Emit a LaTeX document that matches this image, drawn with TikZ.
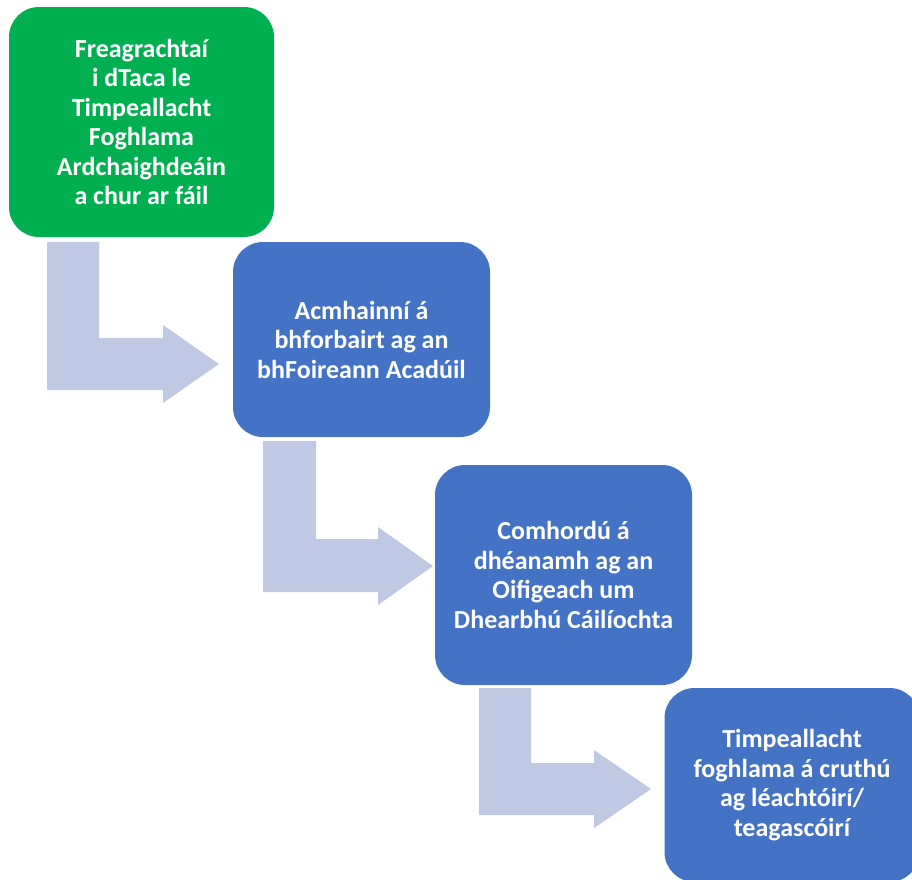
\documentclass[tikz,border=0pt]{standalone}
\usepackage{fontspec}
\setmainfont{Carlito}
\definecolor{boxgreen}{HTML}{00B050}
\definecolor{boxblue}{HTML}{4472C4}
\definecolor{arrowfill}{HTML}{BFC9E3}
\begin{document}
\begin{tikzpicture}[x=1pt,y=-1pt,
  box/.style={rounded corners=30pt, inner sep=0pt, align=center, text=white,
    font=\fontsize{26}{29.5}\selectfont\bfseries},
  bentarrow/.style={fill=arrowfill, draw=none}]
\useasboundingbox (0,0) rectangle (912,879);
\begin{scope}
\clip (0,0) rectangle (912,879);
% bent arrows
\fill[bentarrow] (47,242) -- (99,242) -- (99,338) -- (163,338) -- (163,325) -- (219,364) -- (163,403) -- (163,390) -- (47,390) -- cycle;
\fill[bentarrow] (263,441) -- (316,441) -- (316,539) -- (378,539) -- (378,527) -- (433,566) -- (378,605) -- (378,592) -- (263,592) -- cycle;
\fill[bentarrow] (479,688) -- (531,688) -- (531,763) -- (594,763) -- (594,750) -- (651,789) -- (594,828) -- (594,815) -- (479,815) -- cycle;
% boxes
\node[box, fill=boxgreen, minimum width=265pt, minimum height=230pt] (b1) at (141.5,122)
  {Freagrachtaí\\i dTaca le\\Timpeallacht\\Foghlama\\Ardchaighdeáin\\a chur ar fáil};
\node[box, fill=boxblue, minimum width=257pt, minimum height=195pt] (b2) at (361.5,339.5)
  {Acmhainní á\\bhforbairt ag an\\bhFoireann Acadúil};
\node[box, fill=boxblue, minimum width=257pt, minimum height=220pt] (b3) at (563.5,575)
  {Comhordú á\\dhéanamh ag an\\Oifigeach um\\Dhearbhú Cáilíochta};
\node[box, fill=boxblue, minimum width=255pt, minimum height=194pt] (b4) at (792,785)
  {Timpeallacht\\foghlama á cruthú\\ag léachtóirí/\\teagascóirí};
\end{scope}
\end{tikzpicture}
\end{document}
